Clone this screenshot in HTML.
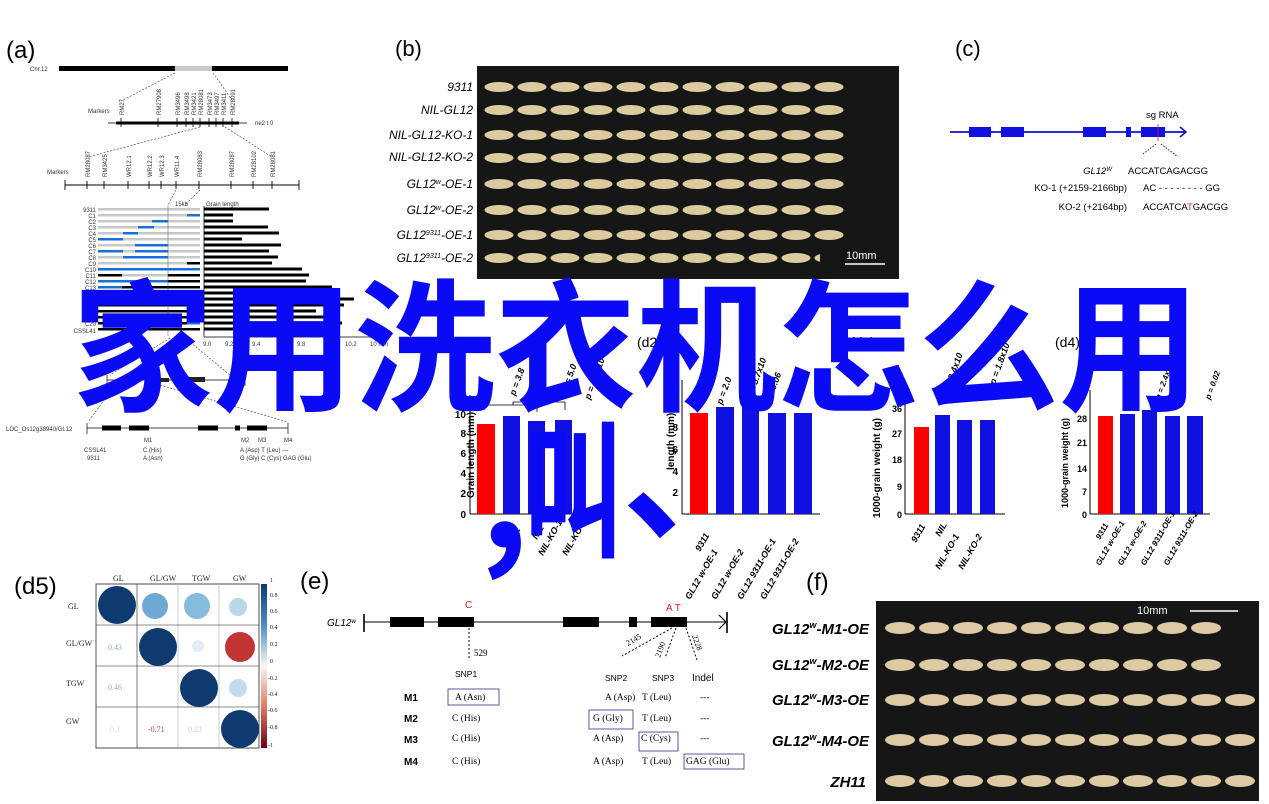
<!DOCTYPE html>
<html><head><meta charset="utf-8"><style>
html,body{margin:0;padding:0;background:#fff;}
svg{display:block;font-family:"Liberation Sans",sans-serif;}
.s{font-size:6px;fill:#333}
.serif{font-family:"Liberation Serif",serif}
</style></head><body>
<svg width="1269" height="804" viewBox="0 0 1269 804" xmlns="http://www.w3.org/2000/svg" xmlns:xlink="http://www.w3.org/1999/xlink">
<defs>
<g id="rb" fill="#dccb9f">
<ellipse cx="499" cy="0" rx="14.5" ry="5"/><ellipse cx="532" cy="0" rx="14.5" ry="5"/><ellipse cx="565" cy="0" rx="14.5" ry="5"/><ellipse cx="598" cy="0" rx="14.5" ry="5"/><ellipse cx="631" cy="0" rx="14.5" ry="5"/><ellipse cx="664" cy="0" rx="14.5" ry="5"/><ellipse cx="697" cy="0" rx="14.5" ry="5"/><ellipse cx="730" cy="0" rx="14.5" ry="5"/><ellipse cx="763" cy="0" rx="14.5" ry="5"/><ellipse cx="796" cy="0" rx="14.5" ry="5"/><ellipse cx="829" cy="0" rx="14.5" ry="5"/>
</g>
<g id="rf" fill="#dccba2">
<ellipse cx="900" cy="0" rx="15" ry="6"/><ellipse cx="934" cy="0" rx="15" ry="6"/><ellipse cx="968" cy="0" rx="15" ry="6"/><ellipse cx="1002" cy="0" rx="15" ry="6"/><ellipse cx="1036" cy="0" rx="15" ry="6"/><ellipse cx="1070" cy="0" rx="15" ry="6"/><ellipse cx="1104" cy="0" rx="15" ry="6"/><ellipse cx="1138" cy="0" rx="15" ry="6"/><ellipse cx="1172" cy="0" rx="15" ry="6"/><ellipse cx="1206" cy="0" rx="15" ry="6"/>
</g>
</defs>

<!-- ========== (a) ========== -->
<text x="6" y="58" font-size="24">(a)</text>
<text x="30" y="71" class="s">Chr.12</text>
<rect x="59" y="66" width="116" height="5" fill="#000"/>
<rect x="175" y="66" width="37" height="5" fill="#c8c8c8"/>
<rect x="212" y="66" width="76" height="5" fill="#000"/>
<g stroke="#333" stroke-width="0.6" stroke-dasharray="2,1.5" fill="none">
<line x1="175" y1="73" x2="123" y2="100"/><line x1="213" y1="73" x2="232" y2="100"/>
<line x1="200" y1="127" x2="88" y2="157"/><line x1="225" y1="127" x2="272" y2="157"/>
<line x1="176" y1="190" x2="168" y2="205"/><line x1="200" y1="190" x2="185" y2="205"/>
<line x1="170" y1="338" x2="110" y2="375"/><line x1="185" y1="338" x2="230" y2="375"/>
<line x1="115" y1="385" x2="88" y2="422"/><line x1="160" y1="385" x2="288" y2="422"/>
</g>
<text x="88" y="113" class="s">Markers</text>
<line x1="108" y1="123" x2="247" y2="123" stroke="#000" stroke-width="0.8"/>
<rect x="116" y="121.5" width="123" height="3" fill="#000"/>
<text x="255" y="125" class="s">ne2 t 0</text>
<g stroke="#000" stroke-width="0.8">
<line x1="121" y1="118" x2="121" y2="127"/><line x1="158" y1="118" x2="158" y2="127"/><line x1="177" y1="118" x2="177" y2="127"/><line x1="186" y1="118" x2="186" y2="127"/><line x1="193" y1="118" x2="193" y2="127"/><line x1="200" y1="118" x2="200" y2="127"/><line x1="209" y1="118" x2="209" y2="127"/><line x1="216" y1="118" x2="216" y2="127"/><line x1="223" y1="118" x2="223" y2="127"/><line x1="232" y1="118" x2="232" y2="127"/>
</g>
<g class="s" font-size="5">
<text transform="translate(124,115) rotate(-90)">RM27</text><text transform="translate(161,115) rotate(-90)">RM27908</text><text transform="translate(180,115) rotate(-90)">RM3496</text><text transform="translate(189,115) rotate(-90)">RM3498</text><text transform="translate(196,115) rotate(-90)">RM3421</text><text transform="translate(203,115) rotate(-90)">RM28081</text><text transform="translate(212,115) rotate(-90)">RM3473</text><text transform="translate(219,115) rotate(-90)">RM3497</text><text transform="translate(226,115) rotate(-90)">RM3411</text><text transform="translate(235,115) rotate(-90)">RM28091</text>
</g>
<text x="47" y="174" class="s">Markers</text>
<line x1="65" y1="185" x2="299" y2="185" stroke="#000" stroke-width="0.9"/>
<g stroke="#000" stroke-width="0.9">
<line x1="65" y1="180" x2="65" y2="190"/><line x1="299" y1="180" x2="299" y2="190"/>
<line x1="87" y1="181" x2="87" y2="189"/><line x1="104" y1="181" x2="104" y2="189"/><line x1="128" y1="181" x2="128" y2="189"/><line x1="149" y1="181" x2="149" y2="189"/><line x1="161" y1="181" x2="161" y2="189"/><line x1="176" y1="181" x2="176" y2="189"/><line x1="199" y1="181" x2="199" y2="189"/><line x1="231" y1="181" x2="231" y2="189"/><line x1="253" y1="181" x2="253" y2="189"/><line x1="272" y1="181" x2="272" y2="189"/>
</g>
<g class="s" font-size="5">
<text transform="translate(90,177) rotate(-90)">RM28087</text><text transform="translate(107,177) rotate(-90)">RM3425</text><text transform="translate(131,177) rotate(-90)">WR12.1</text><text transform="translate(152,177) rotate(-90)">WR12.2</text><text transform="translate(164,177) rotate(-90)">WR12.3</text><text transform="translate(179,177) rotate(-90)">WR11.4</text><text transform="translate(202,177) rotate(-90)">RM28083</text><text transform="translate(234,177) rotate(-90)">RM28087</text><text transform="translate(256,177) rotate(-90)">RM28102</text><text transform="translate(275,177) rotate(-90)">RM28081</text>
</g>
<text x="175" y="206" class="s">15kb</text>
<text x="206" y="206" class="s">Grain length</text>
<g>
<rect x="98" y="208" width="102" height="2.5" fill="#c8c8c8"/><rect x="204" y="207.5" width="65" height="3" fill="#000"/>
<rect x="98" y="214" width="102" height="2.5" fill="#c8c8c8"/><rect x="187" y="214" width="13" height="2.5" fill="#1a6fd6"/><rect x="204" y="213.5" width="29" height="3" fill="#000"/>
<rect x="98" y="220" width="102" height="2.5" fill="#c8c8c8"/><rect x="152" y="220" width="16" height="2.5" fill="#1a6fd6"/><rect x="204" y="219.5" width="29" height="3" fill="#000"/>
<rect x="98" y="226" width="102" height="2.5" fill="#c8c8c8"/><rect x="138" y="226" width="16" height="2.5" fill="#1a6fd6"/><rect x="204" y="225.5" width="64" height="3" fill="#000"/>
<rect x="98" y="232" width="102" height="2.5" fill="#c8c8c8"/><rect x="123" y="232" width="15" height="2.5" fill="#1a6fd6"/><rect x="204" y="231.5" width="75" height="3" fill="#000"/>
<rect x="98" y="238" width="102" height="2.5" fill="#c8c8c8"/><rect x="98" y="238" width="25" height="2.5" fill="#1a6fd6"/><rect x="204" y="237.5" width="38" height="3" fill="#000"/>
<rect x="98" y="244" width="102" height="2.5" fill="#c8c8c8"/><rect x="135" y="244" width="33" height="2.5" fill="#1a6fd6"/><rect x="204" y="243.5" width="77" height="3" fill="#000"/>
<rect x="98" y="250" width="102" height="2.5" fill="#c8c8c8"/><rect x="98" y="250" width="25" height="2.5" fill="#1a6fd6"/><rect x="135" y="250" width="33" height="2.5" fill="#1a6fd6"/><rect x="204" y="249.5" width="65" height="3" fill="#000"/>
<rect x="98" y="256" width="102" height="2.5" fill="#c8c8c8"/><rect x="123" y="256" width="45" height="2.5" fill="#1a6fd6"/><rect x="204" y="255.5" width="74" height="3" fill="#000"/>
<rect x="98" y="262" width="102" height="2.5" fill="#c8c8c8"/><rect x="187" y="262" width="13" height="2.5" fill="#000"/><rect x="204" y="261.5" width="68" height="3" fill="#000"/>
<rect x="98" y="268" width="102" height="2.5" fill="#1a6fd6"/><rect x="204" y="267.5" width="98" height="3" fill="#000"/>
<rect x="98" y="274" width="102" height="2.5" fill="#c8c8c8"/><rect x="98" y="274" width="24" height="2.5" fill="#000"/><rect x="168" y="274" width="32" height="2.5" fill="#000"/><rect x="204" y="273.5" width="105" height="3" fill="#000"/>
<rect x="98" y="280" width="102" height="2.5" fill="#000"/><rect x="98" y="280" width="70" height="2.5" fill="#1a6fd6"/><rect x="204" y="279.5" width="102" height="3" fill="#000"/>
<rect x="98" y="286" width="102" height="2.5" fill="#000"/><rect x="98" y="286" width="24" height="2.5" fill="#1a6fd6"/><rect x="204" y="285.5" width="128" height="3" fill="#000"/>
<rect x="98" y="292" width="102" height="2.5" fill="#000"/><rect x="204" y="291.5" width="120" height="3" fill="#000"/>
<rect x="98" y="298" width="102" height="2.5" fill="#000"/><rect x="204" y="297.5" width="150" height="3" fill="#000"/>
<rect x="98" y="304" width="102" height="2.5" fill="#000"/><rect x="204" y="303.5" width="140" height="3" fill="#000"/>
<rect x="98" y="310" width="102" height="2.5" fill="#000"/><rect x="204" y="309.5" width="112" height="3" fill="#000"/>
<rect x="98" y="316" width="102" height="2.5" fill="#000"/><rect x="204" y="315.5" width="126" height="3" fill="#000"/>
<rect x="98" y="322" width="102" height="2.5" fill="#000"/><rect x="187" y="322" width="13" height="2.5" fill="#1a6fd6"/><rect x="204" y="321.5" width="138" height="3" fill="#000"/>
<rect x="98" y="328" width="102" height="2.5" fill="#000"/><rect x="204" y="327.5" width="130" height="3" fill="#000"/>
</g>
<g class="s" font-size="5" text-anchor="end">
<text x="96" y="212">9311</text><text x="96" y="218">C1</text><text x="96" y="224">C2</text><text x="96" y="230">C3</text><text x="96" y="236">C4</text><text x="96" y="242">C5</text><text x="96" y="248">C6</text><text x="96" y="254">C7</text><text x="96" y="260">C8</text><text x="96" y="266">C9</text><text x="96" y="272">C10</text><text x="96" y="278">C11</text><text x="96" y="284">C12</text><text x="96" y="290">C13</text><text x="96" y="326">C20</text><text x="96" y="333">CSSL41</text>
</g>
<line x1="168" y1="205" x2="168" y2="336" stroke="#555" stroke-width="0.5"/>
<line x1="204" y1="206" x2="204" y2="337" stroke="#000" stroke-width="0.8"/>
<line x1="204" y1="337" x2="380" y2="337" stroke="#000" stroke-width="0.8"/>
<g class="s" font-size="5"><text x="203" y="346">9.0</text><text x="225" y="346">9.2</text><text x="252" y="346">9.4</text><text x="297" y="346">9.8</text><text x="345" y="346">10.2</text><text x="370" y="346">10 mm</text></g>
<line x1="107" y1="380" x2="245" y2="380" stroke="#000" stroke-width="0.7"/>
<line x1="107" y1="375" x2="107" y2="386" stroke="#000" stroke-width="0.7"/>
<line x1="245" y1="375" x2="245" y2="386" stroke="#000" stroke-width="0.7"/>
<rect x="157" y="378" width="12" height="4" fill="#222"/><rect x="189" y="377" width="16" height="5" fill="#222"/>
<text x="6" y="431" class="s" font-size="5">LOC_Os12g38940/GL12</text>
<line x1="87" y1="428" x2="288" y2="428" stroke="#000" stroke-width="0.7"/>
<line x1="87" y1="423" x2="87" y2="434" stroke="#000" stroke-width="0.7"/>
<line x1="288" y1="423" x2="288" y2="434" stroke="#000" stroke-width="0.7"/>
<rect x="102" y="425.5" width="19" height="5" fill="#000"/><rect x="129" y="425.5" width="20" height="5" fill="#000"/><rect x="198" y="425.5" width="20" height="5" fill="#000"/><rect x="235" y="425.5" width="5" height="5" fill="#000"/><rect x="247" y="425.5" width="20" height="5" fill="#000"/>
<g class="s" font-size="5"><text x="144" y="442">M1</text><text x="241" y="442">M2</text><text x="258" y="442">M3</text><text x="284" y="442">M4</text>
<text x="84" y="452">CSSL41</text><text x="87" y="460">9311</text><text x="143" y="452">C (His)</text><text x="143" y="460">A (Asn)</text>
<text x="240" y="452">A (Asp) T (Leu) ---</text><text x="240" y="460">G (Gly) C (Cys) GAG (Glu)</text></g>

<!-- ========== (b) ========== -->
<text x="395" y="56" font-size="22">(b)</text>
<rect x="477" y="66" width="422" height="213" fill="#161616"/>
<use xlink:href="#rb" href="#rb" y="87"/>
<use xlink:href="#rb" href="#rb" y="110"/>
<use xlink:href="#rb" href="#rb" y="135"/>
<use xlink:href="#rb" href="#rb" y="158"/>
<use xlink:href="#rb" href="#rb" y="184"/>
<use xlink:href="#rb" href="#rb" y="210"/>
<use xlink:href="#rb" href="#rb" y="235"/>
<use xlink:href="#rb" href="#rb" y="258"/>
<rect x="820" y="248" width="75" height="28" fill="#161616"/>
<text x="846" y="259" font-size="11" fill="#fff">10mm</text>
<line x1="845" y1="264" x2="885" y2="264" stroke="#fff" stroke-width="1.5"/>
<g font-size="12" font-style="italic" text-anchor="end">
<text x="473" y="91">9311</text><text x="473" y="114">NIL-GL12</text><text x="473" y="139">NIL-GL12-KO-1</text><text x="473" y="161">NIL-GL12-KO-2</text><text x="473" y="188">GL12<tspan font-size="7" dy="-4">w</tspan><tspan dy="4">-OE-1</tspan></text><text x="473" y="214">GL12<tspan font-size="7" dy="-4">w</tspan><tspan dy="4">-OE-2</tspan></text><text x="473" y="239">GL12<tspan font-size="7" dy="-4">9311</tspan><tspan dy="4">-OE-1</tspan></text><text x="473" y="262">GL12<tspan font-size="7" dy="-4">9311</tspan><tspan dy="4">-OE-2</tspan></text>
</g>

<!-- ========== (c) ========== -->
<text x="955" y="56" font-size="22">(c)</text>
<line x1="950" y1="132" x2="1186" y2="132" stroke="#1010d0" stroke-width="1.8"/>
<polyline points="1180,127 1186,132 1180,137" fill="none" stroke="#1010d0" stroke-width="1.6"/>
<rect x="969" y="127" width="22" height="10" fill="#1010e0"/><rect x="1001" y="127" width="23" height="10" fill="#1010e0"/><rect x="1083" y="127" width="23" height="10" fill="#1010e0"/><rect x="1126" y="127" width="5" height="10" fill="#1010e0"/><rect x="1141" y="127" width="24" height="10" fill="#1010e0"/>
<line x1="1158" y1="124" x2="1158" y2="141" stroke="#e02020" stroke-width="0.8"/>
<text x="1146" y="118" font-size="9.5">sg RNA</text>
<line x1="1156" y1="144" x2="1143" y2="154" stroke="#1010d0" stroke-dasharray="1.5,1.5"/>
<line x1="1161" y1="144" x2="1178" y2="157" stroke="#1010d0" stroke-dasharray="1.5,1.5"/>
<g font-size="9.5">
<text x="1112" y="174" font-style="italic" text-anchor="end">GL12<tspan font-size="6" dy="-3">W</tspan></text>
<text x="1128" y="174">ACCATCAGACGG</text>
<text x="1127" y="191" text-anchor="end">KO-1 (+2159-2166bp)</text>
<text x="1143" y="191">AC  - - - - - - - -  GG</text>
<text x="1127" y="210" text-anchor="end">KO-2 (+2164bp)</text>
<text x="1143" y="210">ACCATCA<tspan fill="#e02020">T</tspan>GACGG</text>
</g>

<!-- ========== charts ========== -->
<g font-size="14"><text x="434" y="347">(d1)</text><text x="637" y="347">(d2)</text><text x="850" y="347">(d3)</text><text x="1055" y="347">(d4)</text></g>
<g>
<line x1="470" y1="395" x2="470" y2="514" stroke="#000"/>
<line x1="470" y1="514" x2="600" y2="514" stroke="#000"/>
<g font-size="10" font-weight="bold" text-anchor="end"><text x="466" y="418">10</text><text x="466" y="437">8</text><text x="466" y="457">6</text><text x="466" y="477">4</text><text x="466" y="497">2</text><text x="466" y="518">0</text></g>
<text transform="translate(474,498) rotate(-90)" font-size="10" font-weight="bold">Grain length (mm)</text>
<rect x="477" y="424" width="18" height="90" fill="#ff0000"/>
<rect x="503" y="416" width="17" height="98" fill="#1010e0"/>
<rect x="528" y="421" width="17" height="93" fill="#1010e0"/>
<rect x="555" y="420" width="17" height="94" fill="#1010e0"/>
<polyline points="513,405 513,402 565,402 565,410" fill="none" stroke="#000" stroke-width="0.8"/>
<polyline points="484,410 484,405 537,405 537,412" fill="none" stroke="#000" stroke-width="0.8"/>
<g font-size="9" font-style="italic" font-weight="bold">
<text transform="translate(515,396) rotate(-70)">p = 3.8</text>
<text transform="translate(567,392) rotate(-70)">p = 5.0</text>
<text transform="translate(590,400) rotate(-70)">p = 1.1x10</text>
<text transform="translate(511,546) rotate(-60)">9311</text><text transform="translate(537,540) rotate(-60)">NIL</text><text transform="translate(543,556) rotate(-60)">NIL-KO-1</text><text transform="translate(567,556) rotate(-60)">NIL-KO-2</text>
</g>
</g>
<g>
<line x1="682" y1="380" x2="682" y2="514" stroke="#000"/>
<line x1="682" y1="514" x2="820" y2="514" stroke="#000"/>
<g font-size="10" font-weight="bold" text-anchor="end"><text x="678" y="431">8</text><text x="678" y="453">6</text><text x="678" y="475">4</text><text x="678" y="496">2</text></g>
<text transform="translate(674,470) rotate(-90)" font-size="10" font-weight="bold">length (mm)</text>
<rect x="690" y="413" width="18" height="101" fill="#ff0000"/>
<rect x="716" y="407" width="18" height="107" fill="#1010e0"/>
<rect x="742" y="407" width="17" height="107" fill="#1010e0"/>
<rect x="768" y="413" width="18" height="101" fill="#1010e0"/>
<rect x="794" y="413" width="18" height="101" fill="#1010e0"/>
<g font-size="9" font-style="italic" font-weight="bold">
<text transform="translate(722,405) rotate(-70)">p = 2.0</text><text transform="translate(757,385) rotate(-70)">5.7x10</text><text transform="translate(770,405) rotate(-70)">p = 0.06</text><text transform="translate(796,405) rotate(-70)">p = 0.0</text>
<text transform="translate(700,552) rotate(-60)">9311</text><text transform="translate(690,600) rotate(-60)">GL12 w-OE-1</text><text transform="translate(716,600) rotate(-60)">GL12 w-OE-2</text><text transform="translate(742,600) rotate(-60)">GL12 9311-OE-1</text><text transform="translate(765,600) rotate(-60)">GL12 9311-OE-2</text>
</g>
</g>
<g>
<line x1="905" y1="400" x2="905" y2="514" stroke="#000"/>
<line x1="905" y1="514" x2="1005" y2="514" stroke="#000"/>
<g font-size="9" font-weight="bold" text-anchor="end"><text x="902" y="412">36</text><text x="902" y="437">27</text><text x="902" y="463">18</text><text x="902" y="490">9</text><text x="902" y="518">0</text></g>
<text transform="translate(880,518) rotate(-90)" font-size="10" font-weight="bold">1000-grain weight (g)</text>
<rect x="914" y="427" width="15" height="87" fill="#ff0000"/>
<rect x="935" y="415" width="15" height="99" fill="#1010e0"/>
<rect x="957" y="420" width="15" height="94" fill="#1010e0"/>
<rect x="980" y="420" width="15" height="94" fill="#1010e0"/>
<g font-size="9" font-style="italic" font-weight="bold">
<text transform="translate(948,395) rotate(-70)">p = 3.4x10</text><text transform="translate(995,385) rotate(-70)">p = 1.8x10</text>
<text transform="translate(916,543) rotate(-60)">9311</text><text transform="translate(940,537) rotate(-60)">NIL</text><text transform="translate(940,570) rotate(-60)">NIL-KO-1</text><text transform="translate(963,570) rotate(-60)">NIL-KO-2</text>
</g>
</g>
<g>
<line x1="1090" y1="390" x2="1090" y2="514" stroke="#000"/>
<line x1="1090" y1="514" x2="1210" y2="514" stroke="#000"/>
<g font-size="9" font-weight="bold" text-anchor="end"><text x="1087" y="422">28</text><text x="1087" y="446">21</text><text x="1087" y="472">14</text><text x="1087" y="495">7</text><text x="1087" y="518">0</text></g>
<text transform="translate(1068,508) rotate(-90)" font-size="9" font-weight="bold">1000-grain weight (g)</text>
<rect x="1098" y="416" width="15" height="98" fill="#ff0000"/>
<rect x="1120" y="414" width="15" height="100" fill="#1010e0"/>
<rect x="1142" y="410" width="15" height="104" fill="#1010e0"/>
<rect x="1165" y="416" width="15" height="98" fill="#1010e0"/>
<rect x="1187" y="416" width="16" height="98" fill="#1010e0"/>
<g font-size="8" font-style="italic" font-weight="bold">
<text transform="translate(1160,400) rotate(-70)">p = 2.4x1</text><text transform="translate(1210,400) rotate(-70)">p = 0.02</text>
<text transform="translate(1100,540) rotate(-60)">9311</text><text transform="translate(1100,566) rotate(-60)">GL12 w-OE-1</text><text transform="translate(1122,566) rotate(-60)">GL12 w-OE-2</text><text transform="translate(1145,566) rotate(-60)">GL12 9311-OE-1</text><text transform="translate(1168,566) rotate(-60)">GL12 9311-OE-2</text>
</g>
</g>

<!-- ========== (d5) ========== -->
<text x="14" y="594" font-size="24">(d5)</text>
<g class="serif" font-size="8" fill="#222">
<text x="113" y="581">GL</text><text x="150" y="581">GL/GW</text><text x="192" y="581">TGW</text><text x="233" y="581">GW</text>
<text x="68" y="609">GL</text><text x="66" y="646">GL/GW</text><text x="66" y="686">TGW</text><text x="66" y="724">GW</text>
</g>
<rect x="96" y="584" width="163" height="164" fill="none" stroke="#222" stroke-width="0.8"/>
<g stroke="#222" stroke-width="0.6">
<line x1="137" y1="584" x2="137" y2="748"/><line x1="178" y1="584" x2="178" y2="748" stroke="#aaa"/><line x1="219" y1="584" x2="219" y2="748" stroke="#aaa"/>
<line x1="96" y1="625" x2="259" y2="625"/><line x1="96" y1="666" x2="259" y2="666"/><line x1="96" y1="707" x2="259" y2="707"/>
</g>
<circle cx="117" cy="605" r="19" fill="#0e3a70"/>
<circle cx="155" cy="606" r="13" fill="#6fa9d3"/>
<circle cx="197" cy="606" r="13" fill="#86bbdd"/>
<circle cx="238" cy="607" r="9" fill="#b8d7ea"/>
<circle cx="158" cy="647" r="19" fill="#0e3a70"/>
<circle cx="198" cy="646" r="6" fill="#e3ecf4"/>
<circle cx="240" cy="647" r="15" fill="#c53434"/>
<circle cx="199" cy="688" r="19" fill="#0e3a70"/>
<circle cx="238" cy="688" r="9" fill="#c3dcec"/>
<circle cx="240" cy="729" r="19" fill="#0e3a70"/>
<g class="serif" font-size="8"><text x="108" y="650" fill="#9ab">0.43</text><text x="108" y="690" fill="#9ab">0.46</text><text x="110" y="732" fill="#cde">0.3</text><text x="148" y="732" fill="#c44">-0.71</text><text x="188" y="732" fill="#bcd">0.23</text></g>
<defs><linearGradient id="cb" x1="0" y1="0" x2="0" y2="1"><stop offset="0" stop-color="#0b3b74"/><stop offset="0.25" stop-color="#4a8ec4"/><stop offset="0.5" stop-color="#f7f7f7"/><stop offset="0.75" stop-color="#e0785e"/><stop offset="1" stop-color="#6b0019"/></linearGradient></defs>
<rect x="261" y="584" width="6" height="164" fill="url(#cb)"/>
<g class="serif" font-size="6" fill="#222"><text x="270" y="582">1</text><text x="270" y="597">0.8</text><text x="270" y="613">0.6</text><text x="270" y="629">0.4</text><text x="270" y="646">0.2</text><text x="270" y="663">0</text><text x="268" y="680">-0.2</text><text x="268" y="696">-0.4</text><text x="268" y="712">-0.6</text><text x="268" y="729">-0.8</text><text x="268" y="747">-1</text></g>

<!-- ========== (e) ========== -->
<text x="300" y="589" font-size="24">(e)</text>
<text x="327" y="626" font-size="10" font-style="italic">GL12<tspan font-size="6" dy="-3">w</tspan></text>
<line x1="364" y1="622" x2="727" y2="622" stroke="#000" stroke-width="0.9"/>
<line x1="364" y1="614" x2="364" y2="632" stroke="#000" stroke-width="1.6"/>
<line x1="727" y1="612" x2="727" y2="633" stroke="#000" stroke-width="1.6"/>
<polyline points="719,615 726,622 719,629" fill="none" stroke="#000" stroke-width="1.2"/>
<rect x="390" y="617" width="34" height="10" fill="#000"/><rect x="438" y="617" width="36" height="10" fill="#000"/><rect x="563" y="617" width="36" height="10" fill="#000"/><rect x="629" y="617" width="8" height="10" fill="#000"/><rect x="651" y="617" width="36" height="10" fill="#000"/>
<text x="465" y="608" font-size="10" fill="#d02020">C</text>
<text x="666" y="611" font-size="10" fill="#d02020">A T</text>
<line x1="469" y1="628" x2="469" y2="660" stroke="#000" stroke-dasharray="2,2"/>
<text x="474" y="656" font-size="9" class="serif">529</text>
<g stroke="#000" stroke-dasharray="2,2"><line x1="672" y1="628" x2="622" y2="656"/><line x1="676" y1="628" x2="665" y2="658"/><line x1="686" y1="628" x2="697" y2="660"/></g>
<g class="serif" font-size="8"><text transform="translate(628,646) rotate(-30)">2145</text><text transform="translate(660,658) rotate(-70)">2190</text><text transform="translate(692,636) rotate(70)">2228</text></g>
<g font-size="8.5"><text x="455" y="677">SNP1</text><text x="605" y="681">SNP2</text><text x="652" y="681">SNP3</text><text x="692" y="681" font-size="10">Indel</text></g>
<g font-size="10" font-weight="bold"><text x="404" y="701">M1</text><text x="404" y="722">M2</text><text x="404" y="743">M3</text><text x="404" y="765">M4</text></g>
<g class="serif" font-size="9.5">
<text x="455" y="700">A (Asn)</text><text x="605" y="700">A (Asp)</text><text x="642" y="700">T (Leu)</text><text x="700" y="700">---</text>
<text x="452" y="721">C (His)</text><text x="593" y="721">G (Gly)</text><text x="642" y="721">T (Leu)</text><text x="700" y="721">---</text>
<text x="452" y="741">C (His)</text><text x="593" y="741">A (Asp)</text><text x="641" y="741">C (Cys)</text><text x="700" y="741">---</text>
<text x="452" y="764">C (His)</text><text x="593" y="764">A (Asp)</text><text x="642" y="764">T (Leu)</text><text x="686" y="764">GAG (Glu)</text>
</g>
<g fill="none" stroke="#30308a" stroke-width="0.8">
<rect x="448" y="689" width="51" height="16"/><rect x="589" y="710" width="44" height="19"/><rect x="639" y="732" width="39" height="19"/><rect x="684" y="754" width="60" height="15"/>
</g>

<!-- ========== (f) ========== -->
<text x="806" y="590" font-size="24">(f)</text>
<rect x="876" y="601" width="383" height="200" fill="#161616"/>
<text x="1137" y="614" font-size="11" fill="#fff">10mm</text>
<line x1="1190" y1="611" x2="1238" y2="611" stroke="#fff" stroke-width="1.5"/>
<use xlink:href="#rf" href="#rf" y="628"/>
<use xlink:href="#rf" href="#rf" y="665"/>
<use xlink:href="#rf" href="#rf" y="700"/><ellipse cx="1240" cy="700" rx="15" ry="6" fill="#dccba2"/>
<use xlink:href="#rf" href="#rf" y="740"/><ellipse cx="1240" cy="740" rx="15" ry="6" fill="#dccba2"/>
<use xlink:href="#rf" href="#rf" y="781"/><ellipse cx="1240" cy="781" rx="15" ry="6" fill="#dccba2"/>
<g font-size="15" font-style="italic" font-weight="bold" text-anchor="end">
<text x="869" y="634">GL12<tspan font-size="9" dy="-6">w</tspan><tspan dy="6">-M1-OE</tspan></text>
<text x="869" y="670">GL12<tspan font-size="9" dy="-6">w</tspan><tspan dy="6">-M2-OE</tspan></text>
<text x="869" y="705">GL12<tspan font-size="9" dy="-6">w</tspan><tspan dy="6">-M3-OE</tspan></text>
<text x="869" y="746">GL12<tspan font-size="9" dy="-6">w</tspan><tspan dy="6">-M4-OE</tspan></text>
<text x="866" y="787">ZH11</text>
</g>

<!-- ========== overlay title ========== -->
<g fill="#0a0af5" font-family="'Noto Sans CJK SC','WenQuanYi Zen Hei',sans-serif" font-weight="bold">
<text x="72" y="400" font-size="143" textLength="1128" lengthAdjust="spacingAndGlyphs">家用洗衣机怎么用</text>
<text x="480" y="548" font-size="150">,</text>
<text x="524" y="545" font-size="148" textLength="98" lengthAdjust="spacingAndGlyphs">叫</text>
<text x="622" y="528" font-size="148">、</text>
</g>
</svg>
</body></html>
